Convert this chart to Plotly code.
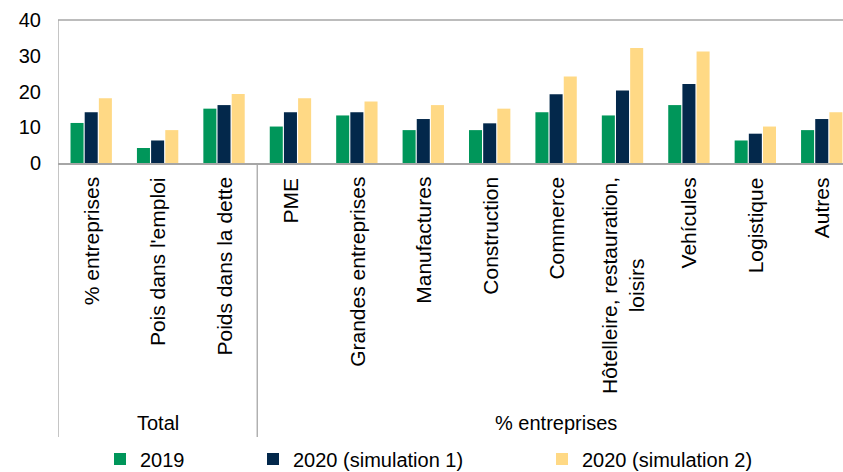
import plotly.graph_objects as go

# Categories (x axis) and the two group headings under them
categories = [
    "% entreprises", "Pois dans l'emploi", "Poids dans la dette",
    "PME", "Grandes entreprises", "Manufactures", "Construction",
    "Commerce", "Hôtelleire, restauration,<br>loisirs", "Vehícules",
    "Logistique", "Autres",
]
groups = ["Total", "% entreprises"]
group_centers = [1, 7]

# Series values
series_names = ["2019", "2020 (simulation 1)", "2020 (simulation 2)"]
values_2019 = [11.2, 4.2, 15.2, 10.2, 13.3, 9.2, 9.2, 14.2, 13.3, 16.2, 6.3, 9.2]
values_sim1 = [14.2, 6.3, 16.2, 14.2, 14.2, 12.3, 11.1, 19.2, 20.3, 22.1, 8.2, 12.3]
values_sim2 = [18.1, 9.2, 19.3, 18.1, 17.2, 16.2, 15.2, 24.2, 32.2, 31.2, 10.2, 14.2]

y_ticks = [0, 10, 20, 30, 40]

colors = ["#00965A", "#03284B", "#FFD985"]
FONT = "Arial, Liberation Sans, sans-serif"
GREY = "#A6A6A6"

W, H = 843, 472
M_L, M_R, M_T, M_B = 58, 0, 20, 309
plot_h = H - M_T - M_B


def py(px):
    """Pixel row -> paper y coordinate."""
    return (H - M_B - px) / plot_h


fig = go.Figure()
legend_ids = ["legend", "legend2", "legend3"]
for name, vals, col, lg in zip(series_names,
                               [values_2019, values_sim1, values_sim2],
                               colors, legend_ids):
    fig.add_trace(go.Bar(
        x=list(range(len(categories))), y=vals, name=name,
        marker=dict(color=col, line=dict(width=0)),
        legend=lg,
    ))

# Rotated category labels below the axis
annotations = []
for i, cat in enumerate(categories):
    annotations.append(dict(
        x=i, xref="x", y=py(175), yref="paper",
        text=cat, textangle=-90, showarrow=False,
        xanchor="center", yanchor="top", align="center",
        font=dict(family=FONT, size=21, color="#000000"),
    ))
for g, c in zip(groups, group_centers):
    annotations.append(dict(
        x=c, xref="x", y=py(423), yref="paper",
        text=g, showarrow=False, xanchor="center", yanchor="middle",
        font=dict(family=FONT, size=20, color="#000000"),
    ))

shapes = [
    # top frame line
    dict(type="line", xref="paper", yref="paper", x0=0, x1=1, y0=1, y1=1,
         line=dict(color=GREY, width=1.3)),
    # left frame line, carried down through the label area
    dict(type="line", xref="x", yref="paper", x0=-0.5, x1=-0.5,
         y0=1, y1=py(437), line=dict(color=GREY, width=1.3)),
    # separator between the two groups
    dict(type="line", xref="x", yref="paper", x0=2.5, x1=2.5,
         y0=0, y1=py(437), line=dict(color=GREY, width=1.3)),
]

legend_x = [100, 253, 542]
legend_common = dict(
    orientation="h", xref="container", yref="container",
    yanchor="middle", y=1 - 459 / H, xanchor="left",
    font=dict(family=FONT, size=20, color="#000000"),
    bgcolor="rgba(0,0,0,0)", borderwidth=0,
)
legends = {}
for lg, lx in zip(legend_ids, legend_x):
    legends[lg] = dict(x=lx / W, **legend_common)

fig.update_layout(
    width=W, height=H, autosize=False,
    margin=dict(l=M_L, r=M_R, t=M_T, b=M_B, pad=0),
    paper_bgcolor="white", plot_bgcolor="white",
    barmode="group", bargap=0.36, bargroupgap=0.08,
    font=dict(family=FONT, size=20, color="#000000"),
    showlegend=True,
    annotations=annotations, shapes=shapes,
    **legends,
)
fig.update_xaxes(
    range=[-0.5, 11.32], showticklabels=False, ticks="",
    showline=True, linecolor=GREY, linewidth=2, showgrid=False,
    zeroline=False, fixedrange=True,
)
fig.update_yaxes(
    range=[0, 40], tickvals=y_ticks, ticktext=[str(v) for v in y_ticks],
    ticks="", showgrid=False, zeroline=False, showline=False,
    tickfont=dict(family=FONT, size=20, color="#000000"),
    ticklabelstandoff=16,
)

fig.write_html("out.html")
